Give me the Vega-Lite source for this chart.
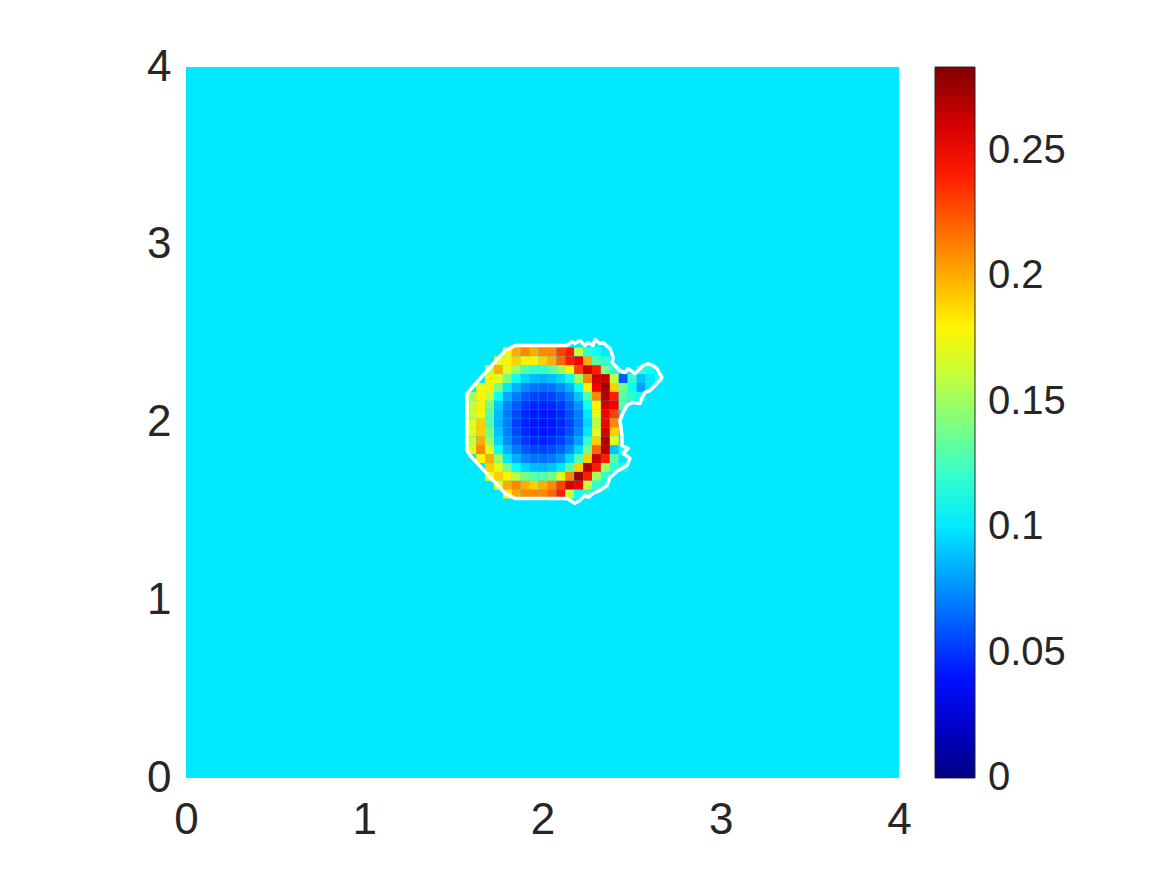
{
"$schema":"https://vega.github.io/schema/vega-lite/v6.json",
"width":713,"height":711,
"autosize":{"type":"none"},
"padding":{"left":186,"top":67,"right":268,"bottom":97},
"background":"white",
"config":{"view":{"stroke":null}},
"datasets":{
"bg":[{"x0":0,"x1":4,"y0":0,"y1":4,"v":0.1}],
"cells":[
{"x":1.775,"y":2.375,"v":0.18},{"x":1.825,"y":2.375,"v":0.20},{"x":1.875,"y":2.375,"v":0.21},{"x":1.925,"y":2.375,"v":0.20},{"x":1.975,"y":2.375,"v":0.21},{"x":2.025,"y":2.375,"v":0.21},{"x":2.075,"y":2.375,"v":0.23},{"x":2.125,"y":2.375,"v":0.24},{"x":2.175,"y":2.375,"v":0.16},{"x":2.225,"y":2.375,"v":0.12},{"x":2.275,"y":2.375,"v":0.11},{"x":2.325,"y":2.375,"v":0.10},
{"x":1.725,"y":2.325,"v":0.17},{"x":1.775,"y":2.325,"v":0.18},{"x":1.825,"y":2.325,"v":0.19},{"x":1.875,"y":2.325,"v":0.18},{"x":1.925,"y":2.325,"v":0.18},{"x":1.975,"y":2.325,"v":0.19},{"x":2.025,"y":2.325,"v":0.20},{"x":2.075,"y":2.325,"v":0.22},{"x":2.125,"y":2.325,"v":0.24},{"x":2.175,"y":2.325,"v":0.25},{"x":2.225,"y":2.325,"v":0.20},{"x":2.275,"y":2.325,"v":0.13},{"x":2.325,"y":2.325,"v":0.12},
{"x":1.675,"y":2.275,"v":0.16},{"x":1.725,"y":2.275,"v":0.20},{"x":1.775,"y":2.275,"v":0.17},{"x":1.825,"y":2.275,"v":0.15},{"x":1.875,"y":2.275,"v":0.13},{"x":1.925,"y":2.275,"v":0.12},{"x":1.975,"y":2.275,"v":0.12},{"x":2.025,"y":2.275,"v":0.13},{"x":2.075,"y":2.275,"v":0.15},{"x":2.125,"y":2.275,"v":0.18},{"x":2.175,"y":2.275,"v":0.23},{"x":2.225,"y":2.275,"v":0.26},{"x":2.275,"y":2.275,"v":0.24},{"x":2.325,"y":2.275,"v":0.14},{"x":2.375,"y":2.275,"v":0.12},{"x":2.525,"y":2.275,"v":0.12},{"x":2.575,"y":2.275,"v":0.11},
{"x":1.675,"y":2.225,"v":0.18},{"x":1.725,"y":2.225,"v":0.17},{"x":1.775,"y":2.225,"v":0.14},{"x":1.825,"y":2.225,"v":0.11},{"x":1.875,"y":2.225,"v":0.095},{"x":1.925,"y":2.225,"v":0.088},{"x":1.975,"y":2.225,"v":0.085},{"x":2.025,"y":2.225,"v":0.088},{"x":2.075,"y":2.225,"v":0.095},{"x":2.125,"y":2.225,"v":0.11},{"x":2.175,"y":2.225,"v":0.15},{"x":2.225,"y":2.225,"v":0.21},{"x":2.275,"y":2.225,"v":0.26},{"x":2.325,"y":2.225,"v":0.26},{"x":2.375,"y":2.225,"v":0.16},{"x":2.425,"y":2.225,"v":0.06},{"x":2.475,"y":2.225,"v":0.12},{"x":2.525,"y":2.225,"v":0.09},{"x":2.575,"y":2.225,"v":0.10},{"x":2.625,"y":2.225,"v":0.11},
{"x":1.625,"y":2.175,"v":0.17},{"x":1.675,"y":2.175,"v":0.18},{"x":1.725,"y":2.175,"v":0.14},{"x":1.775,"y":2.175,"v":0.10},{"x":1.825,"y":2.175,"v":0.085},{"x":1.875,"y":2.175,"v":0.074},{"x":1.925,"y":2.175,"v":0.067},{"x":1.975,"y":2.175,"v":0.065},{"x":2.025,"y":2.175,"v":0.067},{"x":2.075,"y":2.175,"v":0.074},{"x":2.125,"y":2.175,"v":0.085},{"x":2.175,"y":2.175,"v":0.11},{"x":2.225,"y":2.175,"v":0.18},{"x":2.275,"y":2.175,"v":0.25},{"x":2.325,"y":2.175,"v":0.275},{"x":2.375,"y":2.175,"v":0.19},{"x":2.425,"y":2.175,"v":0.14},{"x":2.475,"y":2.175,"v":0.11},{"x":2.525,"y":2.175,"v":0.08},{"x":2.575,"y":2.175,"v":0.10},
{"x":1.575,"y":2.125,"v":0.15},{"x":1.625,"y":2.125,"v":0.18},{"x":1.675,"y":2.125,"v":0.16},{"x":1.725,"y":2.125,"v":0.11},{"x":1.775,"y":2.125,"v":0.083},{"x":1.825,"y":2.125,"v":0.069},{"x":1.875,"y":2.125,"v":0.06},{"x":1.925,"y":2.125,"v":0.054},{"x":1.975,"y":2.125,"v":0.052},{"x":2.025,"y":2.125,"v":0.054},{"x":2.075,"y":2.125,"v":0.06},{"x":2.125,"y":2.125,"v":0.07},{"x":2.175,"y":2.125,"v":0.09},{"x":2.225,"y":2.125,"v":0.13},{"x":2.275,"y":2.125,"v":0.21},{"x":2.325,"y":2.125,"v":0.27},{"x":2.375,"y":2.125,"v":0.24},{"x":2.425,"y":2.125,"v":0.13},{"x":2.475,"y":2.125,"v":0.12},{"x":2.525,"y":2.125,"v":0.11},
{"x":1.575,"y":2.075,"v":0.16},{"x":1.625,"y":2.075,"v":0.18},{"x":1.675,"y":2.075,"v":0.14},{"x":1.725,"y":2.075,"v":0.092},{"x":1.775,"y":2.075,"v":0.072},{"x":1.825,"y":2.075,"v":0.06},{"x":1.875,"y":2.075,"v":0.05},{"x":1.925,"y":2.075,"v":0.046},{"x":1.975,"y":2.075,"v":0.044},{"x":2.025,"y":2.075,"v":0.046},{"x":2.075,"y":2.075,"v":0.05},{"x":2.125,"y":2.075,"v":0.062},{"x":2.175,"y":2.075,"v":0.077},{"x":2.225,"y":2.075,"v":0.11},{"x":2.275,"y":2.075,"v":0.18},{"x":2.325,"y":2.075,"v":0.26},{"x":2.375,"y":2.075,"v":0.25},{"x":2.425,"y":2.075,"v":0.13},
{"x":1.575,"y":2.025,"v":0.16},{"x":1.625,"y":2.025,"v":0.18},{"x":1.675,"y":2.025,"v":0.13},{"x":1.725,"y":2.025,"v":0.088},{"x":1.775,"y":2.025,"v":0.069},{"x":1.825,"y":2.025,"v":0.055},{"x":1.875,"y":2.025,"v":0.046},{"x":1.925,"y":2.025,"v":0.042},{"x":1.975,"y":2.025,"v":0.041},{"x":2.025,"y":2.025,"v":0.042},{"x":2.075,"y":2.025,"v":0.046},{"x":2.125,"y":2.025,"v":0.056},{"x":2.175,"y":2.025,"v":0.07},{"x":2.225,"y":2.025,"v":0.10},{"x":2.275,"y":2.025,"v":0.17},{"x":2.325,"y":2.025,"v":0.25},{"x":2.375,"y":2.025,"v":0.23},
{"x":1.575,"y":1.975,"v":0.17},{"x":1.625,"y":1.975,"v":0.19},{"x":1.675,"y":1.975,"v":0.13},{"x":1.725,"y":1.975,"v":0.086},{"x":1.775,"y":1.975,"v":0.07},{"x":1.825,"y":1.975,"v":0.052},{"x":1.875,"y":1.975,"v":0.044},{"x":1.925,"y":1.975,"v":0.041},{"x":1.975,"y":1.975,"v":0.04},{"x":2.025,"y":1.975,"v":0.041},{"x":2.075,"y":1.975,"v":0.045},{"x":2.125,"y":1.975,"v":0.054},{"x":2.175,"y":1.975,"v":0.069},{"x":2.225,"y":1.975,"v":0.095},{"x":2.275,"y":1.975,"v":0.16},{"x":2.325,"y":1.975,"v":0.25},{"x":2.375,"y":1.975,"v":0.21},
{"x":1.575,"y":1.925,"v":0.17},{"x":1.625,"y":1.925,"v":0.19},{"x":1.675,"y":1.925,"v":0.14},{"x":1.725,"y":1.925,"v":0.09},{"x":1.775,"y":1.925,"v":0.071},{"x":1.825,"y":1.925,"v":0.055},{"x":1.875,"y":1.925,"v":0.046},{"x":1.925,"y":1.925,"v":0.042},{"x":1.975,"y":1.925,"v":0.041},{"x":2.025,"y":1.925,"v":0.042},{"x":2.075,"y":1.925,"v":0.047},{"x":2.125,"y":1.925,"v":0.057},{"x":2.175,"y":1.925,"v":0.073},{"x":2.225,"y":1.925,"v":0.10},{"x":2.275,"y":1.925,"v":0.17},{"x":2.325,"y":1.925,"v":0.26},{"x":2.375,"y":1.925,"v":0.19},
{"x":1.575,"y":1.875,"v":0.16},{"x":1.625,"y":1.875,"v":0.20},{"x":1.675,"y":1.875,"v":0.15},{"x":1.725,"y":1.875,"v":0.095},{"x":1.775,"y":1.875,"v":0.074},{"x":1.825,"y":1.875,"v":0.06},{"x":1.875,"y":1.875,"v":0.05},{"x":1.925,"y":1.875,"v":0.046},{"x":1.975,"y":1.875,"v":0.044},{"x":2.025,"y":1.875,"v":0.047},{"x":2.075,"y":1.875,"v":0.052},{"x":2.125,"y":1.875,"v":0.064},{"x":2.175,"y":1.875,"v":0.08},{"x":2.225,"y":1.875,"v":0.12},{"x":2.275,"y":1.875,"v":0.19},{"x":2.325,"y":1.875,"v":0.27},{"x":2.375,"y":1.875,"v":0.17},
{"x":1.575,"y":1.825,"v":0.17},{"x":1.625,"y":1.825,"v":0.21},{"x":1.675,"y":1.825,"v":0.17},{"x":1.725,"y":1.825,"v":0.11},{"x":1.775,"y":1.825,"v":0.085},{"x":1.825,"y":1.825,"v":0.069},{"x":1.875,"y":1.825,"v":0.06},{"x":1.925,"y":1.825,"v":0.054},{"x":1.975,"y":1.825,"v":0.053},{"x":2.025,"y":1.825,"v":0.056},{"x":2.075,"y":1.825,"v":0.063},{"x":2.125,"y":1.825,"v":0.074},{"x":2.175,"y":1.825,"v":0.095},{"x":2.225,"y":1.825,"v":0.14},{"x":2.275,"y":1.825,"v":0.22},{"x":2.325,"y":1.825,"v":0.27},{"x":2.375,"y":1.825,"v":0.09},{"x":2.425,"y":1.825,"v":0.11},
{"x":1.625,"y":1.775,"v":0.18},{"x":1.675,"y":1.775,"v":0.20},{"x":1.725,"y":1.775,"v":0.15},{"x":1.775,"y":1.775,"v":0.10},{"x":1.825,"y":1.775,"v":0.084},{"x":1.875,"y":1.775,"v":0.072},{"x":1.925,"y":1.775,"v":0.067},{"x":1.975,"y":1.775,"v":0.066},{"x":2.025,"y":1.775,"v":0.069},{"x":2.075,"y":1.775,"v":0.077},{"x":2.125,"y":1.775,"v":0.095},{"x":2.175,"y":1.775,"v":0.13},{"x":2.225,"y":1.775,"v":0.19},{"x":2.275,"y":1.775,"v":0.26},{"x":2.325,"y":1.775,"v":0.24},{"x":2.375,"y":1.775,"v":0.13},{"x":2.425,"y":1.775,"v":0.10},
{"x":1.675,"y":1.725,"v":0.19},{"x":1.725,"y":1.725,"v":0.17},{"x":1.775,"y":1.725,"v":0.14},{"x":1.825,"y":1.725,"v":0.108},{"x":1.875,"y":1.725,"v":0.095},{"x":1.925,"y":1.725,"v":0.088},{"x":1.975,"y":1.725,"v":0.086},{"x":2.025,"y":1.725,"v":0.09},{"x":2.075,"y":1.725,"v":0.10},{"x":2.125,"y":1.725,"v":0.13},{"x":2.175,"y":1.725,"v":0.19},{"x":2.225,"y":1.725,"v":0.27},{"x":2.275,"y":1.725,"v":0.24},{"x":2.325,"y":1.725,"v":0.15},{"x":2.375,"y":1.725,"v":0.12},{"x":2.425,"y":1.725,"v":0.11},
{"x":1.675,"y":1.675,"v":0.17},{"x":1.725,"y":1.675,"v":0.19},{"x":1.775,"y":1.675,"v":0.18},{"x":1.825,"y":1.675,"v":0.16},{"x":1.875,"y":1.675,"v":0.14},{"x":1.925,"y":1.675,"v":0.13},{"x":1.975,"y":1.675,"v":0.13},{"x":2.025,"y":1.675,"v":0.14},{"x":2.075,"y":1.675,"v":0.17},{"x":2.125,"y":1.675,"v":0.21},{"x":2.175,"y":1.675,"v":0.275},{"x":2.225,"y":1.675,"v":0.24},{"x":2.275,"y":1.675,"v":0.15},{"x":2.325,"y":1.675,"v":0.12},
{"x":1.725,"y":1.625,"v":0.17},{"x":1.775,"y":1.625,"v":0.20},{"x":1.825,"y":1.625,"v":0.21},{"x":1.875,"y":1.625,"v":0.20},{"x":1.925,"y":1.625,"v":0.19},{"x":1.975,"y":1.625,"v":0.20},{"x":2.025,"y":1.625,"v":0.21},{"x":2.075,"y":1.625,"v":0.23},{"x":2.125,"y":1.625,"v":0.26},{"x":2.175,"y":1.625,"v":0.25},{"x":2.225,"y":1.625,"v":0.16},{"x":2.275,"y":1.625,"v":0.12},{"x":2.325,"y":1.625,"v":0.11},
{"x":1.775,"y":1.575,"v":0.18},{"x":1.825,"y":1.575,"v":0.20},{"x":1.875,"y":1.575,"v":0.21},{"x":1.925,"y":1.575,"v":0.21},{"x":1.975,"y":1.575,"v":0.21},{"x":2.025,"y":1.575,"v":0.22},{"x":2.075,"y":1.575,"v":0.24},{"x":2.125,"y":1.575,"v":0.16},{"x":2.175,"y":1.575,"v":0.11},{"x":2.225,"y":1.575,"v":0.12}
],
"outline":[
{"i":0,"x":1.576,"y":2.163},{"i":1,"x":1.790,"y":2.404},{"i":2,"x":1.846,"y":2.433},{"i":3,"x":2.137,"y":2.433},{"i":4,"x":2.166,"y":2.455},{"i":5,"x":2.182,"y":2.444},{"i":6,"x":2.210,"y":2.461},{"i":7,"x":2.238,"y":2.433},{"i":8,"x":2.255,"y":2.449},{"i":9,"x":2.283,"y":2.433},{"i":10,"x":2.295,"y":2.466},{"i":11,"x":2.323,"y":2.444},{"i":12,"x":2.339,"y":2.449},{"i":13,"x":2.379,"y":2.416},{"i":14,"x":2.396,"y":2.365},{"i":15,"x":2.390,"y":2.337},{"i":16,"x":2.435,"y":2.292},{"i":17,"x":2.463,"y":2.281},{"i":18,"x":2.480,"y":2.303},{"i":19,"x":2.519,"y":2.275},{"i":20,"x":2.547,"y":2.303},{"i":21,"x":2.564,"y":2.320},{"i":22,"x":2.592,"y":2.331},{"i":23,"x":2.620,"y":2.320},{"i":24,"x":2.642,"y":2.303},{"i":25,"x":2.670,"y":2.253},{"i":26,"x":2.631,"y":2.208},{"i":27,"x":2.603,"y":2.180},{"i":28,"x":2.575,"y":2.169},{"i":29,"x":2.558,"y":2.140},{"i":30,"x":2.547,"y":2.107},{"i":31,"x":2.502,"y":2.112},{"i":32,"x":2.474,"y":2.096},{"i":33,"x":2.452,"y":2.056},{"i":34,"x":2.435,"y":2.011},{"i":35,"x":2.446,"y":1.927},{"i":36,"x":2.446,"y":1.871},{"i":37,"x":2.480,"y":1.854},{"i":38,"x":2.452,"y":1.826},{"i":39,"x":2.491,"y":1.798},{"i":40,"x":2.474,"y":1.758},{"i":41,"x":2.424,"y":1.730},{"i":42,"x":2.379,"y":1.691},{"i":43,"x":2.362,"y":1.646},{"i":44,"x":2.323,"y":1.618},{"i":45,"x":2.283,"y":1.601},{"i":46,"x":2.255,"y":1.579},{"i":47,"x":2.238,"y":1.590},{"i":48,"x":2.210,"y":1.562},{"i":49,"x":2.182,"y":1.545},{"i":50,"x":2.154,"y":1.562},{"i":51,"x":2.137,"y":1.573},{"i":52,"x":1.846,"y":1.573},{"i":53,"x":1.790,"y":1.601},{"i":54,"x":1.593,"y":1.815},{"i":55,"x":1.576,"y":1.843},{"i":56,"x":1.576,"y":2.163}
]
},
"layer":[
{"data":{"name":"bg"},"mark":{"type":"rect"},
"encoding":{
"x":{"field":"x0","type":"quantitative","scale":{"domain":[0,4],"nice":false,"zero":false},"axis":{"title":null,"values":[0,1,2,3,4],"format":"d","domain":false,"ticks":false,"tickSize":0,"grid":false,"labelFlush":false,"labelFontSize":44,"labelFont":"Liberation Sans","labelColor":"#262626","labelPadding":20}},
"x2":{"field":"x1"},
"y":{"field":"y0","type":"quantitative","scale":{"domain":[0,4],"nice":false,"zero":false},"axis":{"title":null,"values":[0,1,2,3,4],"format":"d","domain":false,"ticks":false,"tickSize":0,"grid":false,"labelFlush":false,"labelFontSize":44,"labelFont":"Liberation Sans","labelColor":"#262626","labelPadding":15}},
"y2":{"field":"y1"},
"color":{"field":"v","type":"quantitative","scale":{"domain":[0,0.03541,0.10624,0.17706,0.24789,0.2833],"range":["#000080","#0000ff","#00ffff","#ffff00","#ff0000","#800000"],"interpolate":"rgb"},"legend":{"title":null,"values":[0,0.05,0.1,0.15,0.2,0.25],"format":"~g","orient":"right","direction":"vertical","gradientLength":711,"gradientThickness":40,"offset":36,"padding":0,"labelFontSize":40,"labelFont":"Liberation Sans","labelColor":"#262626","labelOffset":13,"labelBaseline":"middle","labelOverlap":false,"gradientStrokeColor":"#262626","gradientStrokeWidth":1,"encode":{"labels":{"update":{"baseline":{"value":"middle"}}}}}}
}},
{"data":{"name":"cells"},"mark":{"type":"rect"},
"encoding":{
"x":{"field":"x","type":"quantitative","bin":{"binned":true,"step":0.05},"scale":{"domain":[0,4],"nice":false,"zero":false},"axis":{"title":null,"values":[0,1,2,3,4],"format":"d","domain":false,"ticks":false,"tickSize":0,"grid":false,"labelFlush":false,"labelFontSize":44,"labelFont":"Liberation Sans","labelColor":"#262626","labelPadding":20}},
"y":{"field":"y","type":"quantitative","bin":{"binned":true,"step":0.05},"scale":{"domain":[0,4],"nice":false,"zero":false},"axis":{"title":null,"values":[0,1,2,3,4],"format":"d","domain":false,"ticks":false,"tickSize":0,"grid":false,"labelFlush":false,"labelFontSize":44,"labelFont":"Liberation Sans","labelColor":"#262626","labelPadding":15}},
"color":{"field":"v","type":"quantitative","scale":{"domain":[0,0.03541,0.10624,0.17706,0.24789,0.2833],"range":["#000080","#0000ff","#00ffff","#ffff00","#ff0000","#800000"],"interpolate":"rgb"},"legend":{"title":null,"values":[0,0.05,0.1,0.15,0.2,0.25],"format":"~g","orient":"right","direction":"vertical","gradientLength":711,"gradientThickness":40,"offset":36,"padding":0,"labelFontSize":40,"labelFont":"Liberation Sans","labelColor":"#262626","labelOffset":13,"labelBaseline":"middle","labelOverlap":false,"gradientStrokeColor":"#262626","gradientStrokeWidth":1,"encode":{"labels":{"update":{"baseline":{"value":"middle"}}}}}}
}},
{"data":{"name":"outline"},"mark":{"type":"line","color":"#ffffff","strokeWidth":3.5,"strokeJoin":"round","strokeCap":"round"},
"encoding":{
"x":{"field":"x","type":"quantitative","scale":{"domain":[0,4],"nice":false,"zero":false},"axis":{"title":null,"values":[0,1,2,3,4],"format":"d","domain":false,"ticks":false,"tickSize":0,"grid":false,"labelFlush":false,"labelFontSize":44,"labelFont":"Liberation Sans","labelColor":"#262626","labelPadding":20}},
"y":{"field":"y","type":"quantitative","scale":{"domain":[0,4],"nice":false,"zero":false},"axis":{"title":null,"values":[0,1,2,3,4],"format":"d","domain":false,"ticks":false,"tickSize":0,"grid":false,"labelFlush":false,"labelFontSize":44,"labelFont":"Liberation Sans","labelColor":"#262626","labelPadding":15}},
"order":{"field":"i","type":"quantitative"}
}}
]
}
